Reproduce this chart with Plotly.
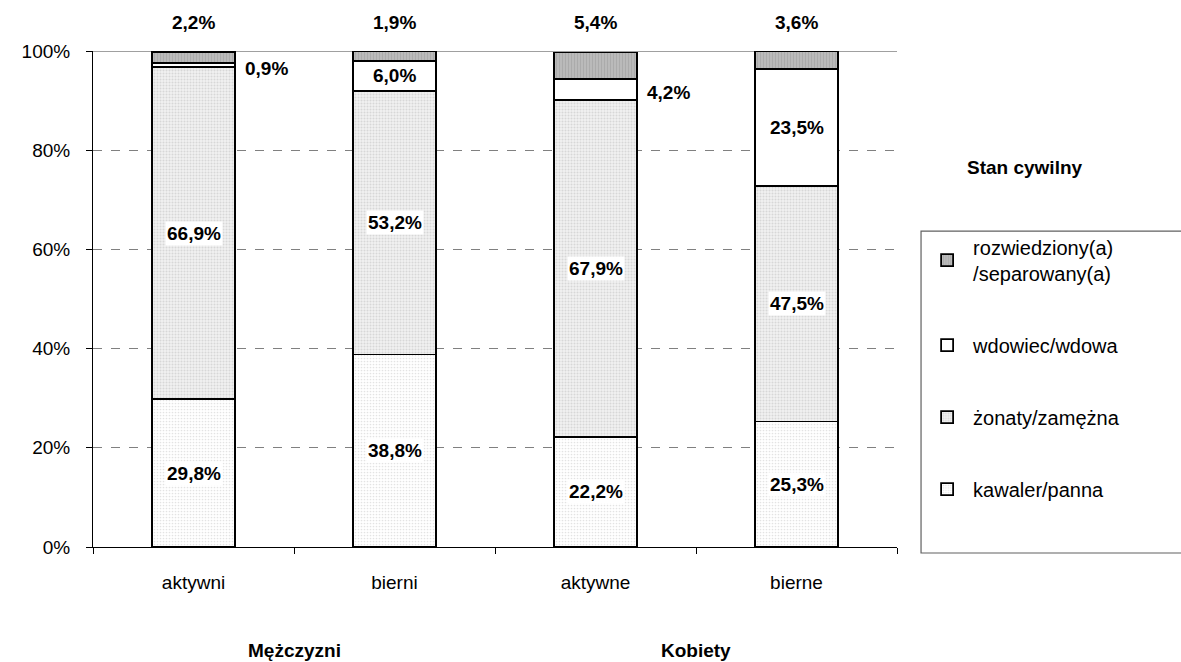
import plotly.graph_objects as go

categories = ["aktywni", "bierni", "aktywne", "bierne"]
groups = ["Mężczyzni", "Kobiety"]
kawaler = [29.8, 38.8, 22.2, 25.3]
zonaty = [66.9, 53.2, 67.9, 47.5]
wdowiec = [0.9, 6.0, 4.2, 23.5]
rozwiedziony = [2.2, 1.9, 5.4, 3.6]
y_ticks = [0, 20, 40, 60, 80, 100]
y_ticktext = ["0%", "20%", "40%", "60%", "80%", "100%"]
wdowiec_outside = [True, False, True, False]

FONT = "Liberation Sans, Arial, sans-serif"
series = [
    ("kawaler/panna", kawaler, dict(shape=".", fgcolor="#c8c8c8", bgcolor="#ffffff", size=3, solidity=0.25), 4),
    ("żonaty/zamężna", zonaty, dict(shape=".", fgcolor="#bdbdbd", bgcolor="#f0f0f0", size=3, solidity=0.35), 3),
    ("wdowiec/wdowa", wdowiec, None, 2),
    ("rozwiedziony(a)<br>/separowany(a)", rozwiedziony, dict(shape="|", fgcolor="#9a9a9a", bgcolor="#bcbcbc", size=3, solidity=0.4), 1),
]

fig = go.Figure()
for i, (name, vals, pat, rank) in enumerate(series):
    marker = dict(color="#ffffff", line=dict(color="#000000", width=1.8))
    if pat:
        marker["pattern"] = pat
        marker["color"] = pat["bgcolor"]
    fig.add_trace(go.Bar(
        x=categories, y=vals, name=name, marker=marker, width=0.41,
        legendgroup=f"g{i}", legendrank=rank, hoverinfo="skip",
    ))

def fmt(v):
    return f"{v:.1f}%".replace(".", ",")

LBL = dict(size=19)
annotations = []
for j, cat in enumerate(categories):
    annotations.append(dict(x=cat, y=kawaler[j] / 2, text=f"<b>{fmt(kawaler[j])}</b>",
                            showarrow=False, bgcolor="#ffffff", borderpad=1, font=LBL))
    base = kawaler[j]
    annotations.append(dict(x=cat, y=base + zonaty[j] / 2, text=f"<b>{fmt(zonaty[j])}</b>",
                            showarrow=False, bgcolor="#ffffff", borderpad=1, font=LBL))
    base += zonaty[j]
    if wdowiec_outside[j]:
        annotations.append(dict(x=j + 0.245, y=base + wdowiec[j] / 2 - 0.6, text=f"<b>{fmt(wdowiec[j])}</b>",
                                showarrow=False, xanchor="left", yanchor="middle", font=LBL))
    else:
        annotations.append(dict(x=cat, y=base + wdowiec[j] / 2, text=f"<b>{fmt(wdowiec[j])}</b>",
                                showarrow=False, bgcolor="#ffffff", borderpad=1, font=LBL))
    annotations.append(dict(x=cat, y=1.058, yref="paper", yanchor="middle",
                            text=f"<b>{fmt(rozwiedziony[j])}</b>", showarrow=False, font=LBL))

annotations.append(dict(x=0.5, y=-0.2077, xref="x", yref="paper", yanchor="middle", xanchor="center",
                        text=f"<b>{groups[0]}</b>", showarrow=False, font=dict(size=19)))
annotations.append(dict(x=2.5, y=-0.2077, xref="x", yref="paper", yanchor="middle", xanchor="center",
                        text=f"<b>{groups[1]}</b>", showarrow=False, font=dict(size=19)))
annotations.append(dict(x=1.159, y=0.766, xref="paper", yref="paper", yanchor="middle", xanchor="center",
                        text="<b>Stan cywilny</b>", showarrow=False, font=dict(size=19)))

fig.update_layout(
    width=1181, height=662,
    margin=dict(l=93, r=284, t=51, b=115),
    barmode="stack",
    paper_bgcolor="#ffffff", plot_bgcolor="#ffffff",
    font=dict(family=FONT, size=19, color="#000000"),
    bargap=0.59,
    annotations=annotations,
    legend=dict(
        x=1.03, xanchor="left", y=0.644, yanchor="top",
        traceorder="grouped", tracegroupgap=43, itemwidth=42,
        borderwidth=0, bgcolor="rgba(0,0,0,0)",
        font=dict(size=20, family=FONT),
    ),
    xaxis=dict(
        showline=True, linecolor="#000000", linewidth=1,
        ticks="outside", tickson="boundaries", ticklen=6, tickcolor="#000000",
        tickfont=dict(size=19), range=[-0.5, 3.5], ticklabelstandoff=18,
    ),
    yaxis=dict(
        range=[0, 100], tickmode="array", tickvals=y_ticks, ticktext=y_ticktext,
        showline=True, linecolor="#000000", linewidth=1,
        ticks="outside", ticklen=6, tickcolor="#000000",
        showgrid=True, gridcolor="#808080", griddash="dash", gridwidth=1,
        tickfont=dict(size=19), zeroline=False, ticklabelstandoff=12,
    ),
    shapes=[
        dict(type="line", xref="paper", yref="y", x0=0, x1=1, y0=100, y1=100,
             line=dict(color="#808080", width=1.5), layer="below"),
        dict(type="rect", xref="paper", yref="paper", x0=1.0299, x1=1.36, y0=-0.0121, y1=0.637,
             line=dict(color="#606060", width=1.2), fillcolor="rgba(0,0,0,0)", layer="above"),
    ],
)

fig.write_html("out.html", config={"displayModeBar": False},
               post_script="document.body.style.margin='0';document.body.style.overflow='hidden';")
